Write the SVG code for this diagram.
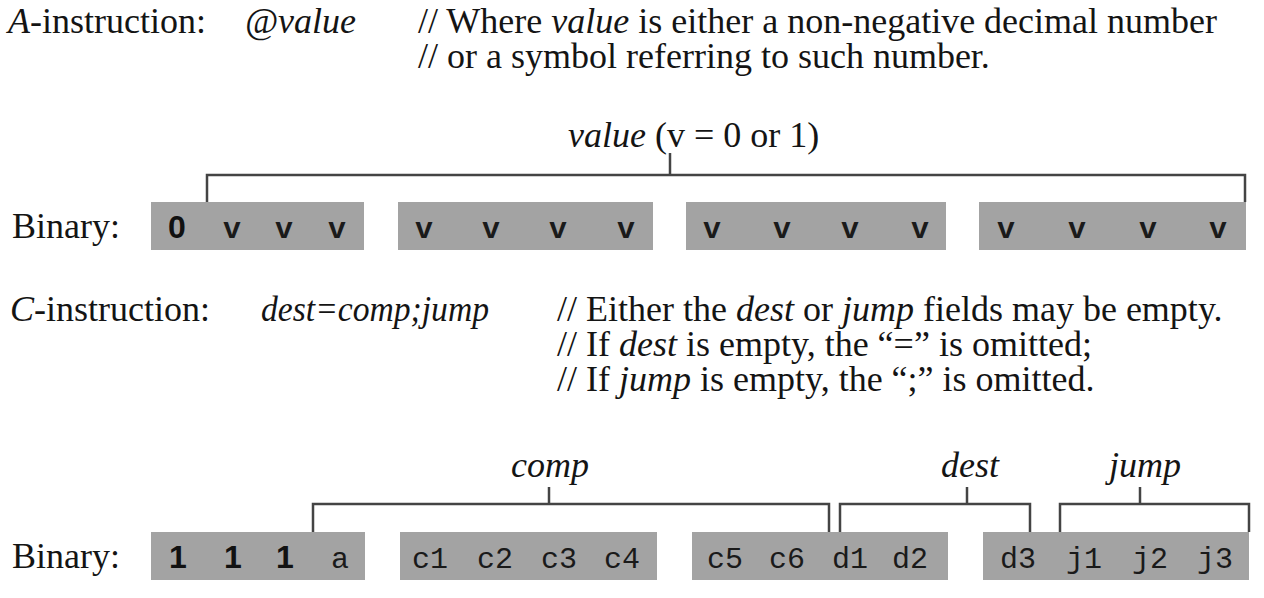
<svg xmlns="http://www.w3.org/2000/svg" width="1264" height="598" viewBox="0 0 1264 598">
  <style>
    .t { font-family: "Liberation Serif", "Times New Roman", serif; font-size: 36px; fill: #141414; }
    .i { font-style: italic; }
    .box { fill: #a3a3a3; }
    .m { font-family: "Liberation Mono", "Courier New", monospace; font-size: 30px; fill: #1a1a1a; text-anchor: middle; }
    .mb { font-weight: bold; }
    .d { font-family: "Liberation Sans", Arial, sans-serif; font-weight: bold; font-size: 32px; fill: #111; text-anchor: middle; }
    .br { fill: none; stroke: #444; stroke-width: 2.5; }
    .lbl { text-anchor: middle; }
  </style>
  <rect width="1264" height="598" fill="#ffffff"/>

  <g id="a-instruction-text">
    <text class="t" x="8" y="33"><tspan class="i">A</tspan>-instruction:</text>
    <text class="t i" x="245" y="33">@value</text>
    <text class="t" x="418" y="33">// Where <tspan class="i">value</tspan> is either a non-negative decimal number</text>
    <text class="t" x="418" y="68">// or a symbol referring to such number.</text>
  </g>

  <g id="value-label">
    <text class="t" x="568" y="147"><tspan class="i">value</tspan> (v = 0 or 1)</text>
  </g>

  <g id="a-binary">
    <text class="t" x="12" y="238">Binary:</text>
    <rect class="box" x="151" y="202" width="213" height="48"/>
    <rect class="box" x="398" y="202" width="255" height="48"/>
    <rect class="box" x="686" y="202" width="260" height="48"/>
    <rect class="box" x="979" y="202" width="267" height="48"/>
    <text class="d" x="177" y="238">0</text>
    <text class="m mb" x="232" y="238">v</text>
    <text class="m mb" x="284" y="238">v</text>
    <text class="m mb" x="337" y="238">v</text>
    <text class="m mb" x="424" y="238">v</text>
    <text class="m mb" x="491" y="238">v</text>
    <text class="m mb" x="558" y="238">v</text>
    <text class="m mb" x="626" y="238">v</text>
    <text class="m mb" x="712" y="238">v</text>
    <text class="m mb" x="782" y="238">v</text>
    <text class="m mb" x="850" y="238">v</text>
    <text class="m mb" x="920" y="238">v</text>
    <text class="m mb" x="1006" y="238">v</text>
    <text class="m mb" x="1077" y="238">v</text>
    <text class="m mb" x="1148" y="238">v</text>
    <text class="m mb" x="1218" y="238">v</text>
  </g>

  <g id="c-instruction-text">
    <text class="t" x="10" y="321"><tspan class="i">C</tspan>-instruction:</text>
    <text class="t i" x="261" y="321" textLength="228" lengthAdjust="spacingAndGlyphs">dest=comp;jump</text>
    <text class="t" x="557" y="321">// Either the <tspan class="i">dest</tspan> or <tspan class="i">jump</tspan> fields may be empty.</text>
    <text class="t" x="557" y="356">// If <tspan class="i">dest</tspan> is empty, the “=” is omitted;</text>
    <text class="t" x="557" y="391">// If <tspan class="i">jump</tspan> is empty, the “;” is omitted.</text>
  </g>

  <g id="field-labels">
    <text class="t i lbl" x="550" y="477">comp</text>
    <text class="t i lbl" x="970" y="477">dest</text>
    <text class="t i lbl" x="1145" y="477">jump</text>
  </g>

  <g id="c-binary">
    <text class="t" x="12" y="568">Binary:</text>
    <rect class="box" x="151" y="532" width="214" height="48"/>
    <rect class="box" x="400" y="532" width="257" height="48"/>
    <rect class="box" x="692" y="532" width="256" height="48"/>
    <rect class="box" x="983" y="532" width="266" height="48"/>
    <text class="d" x="178" y="568">1</text>
    <text class="d" x="233" y="568">1</text>
    <text class="d" x="285" y="568">1</text>
    <text class="m" x="340" y="568">a</text>
    <text class="m" x="430" y="568">c1</text>
    <text class="m" x="495" y="568">c2</text>
    <text class="m" x="559" y="568">c3</text>
    <text class="m" x="622" y="568">c4</text>
    <text class="m" x="725" y="568">c5</text>
    <text class="m" x="787" y="568">c6</text>
    <text class="m" x="850" y="568">d1</text>
    <text class="m" x="910" y="568">d2</text>
    <text class="m" x="1018" y="568">d3</text>
    <text class="m" x="1084" y="568">j1</text>
    <text class="m" x="1150" y="568">j2</text>
    <text class="m" x="1215" y="568">j3</text>
  </g>

  <g id="connectors">
    <path class="br" d="M207,202 V175 H1245 V202"/>
    <path class="br" d="M670,153 V175"/>
    <path class="br" d="M313,532 V504 H829 V532"/>
    <path class="br" d="M549,487 V504"/>
    <path class="br" d="M840,532 V504 H1030 V532"/>
    <path class="br" d="M967,487 V504"/>
    <path class="br" d="M1060,532 V504 H1249 V532"/>
    <path class="br" d="M1140,487 V504"/>
  </g>
</svg>
